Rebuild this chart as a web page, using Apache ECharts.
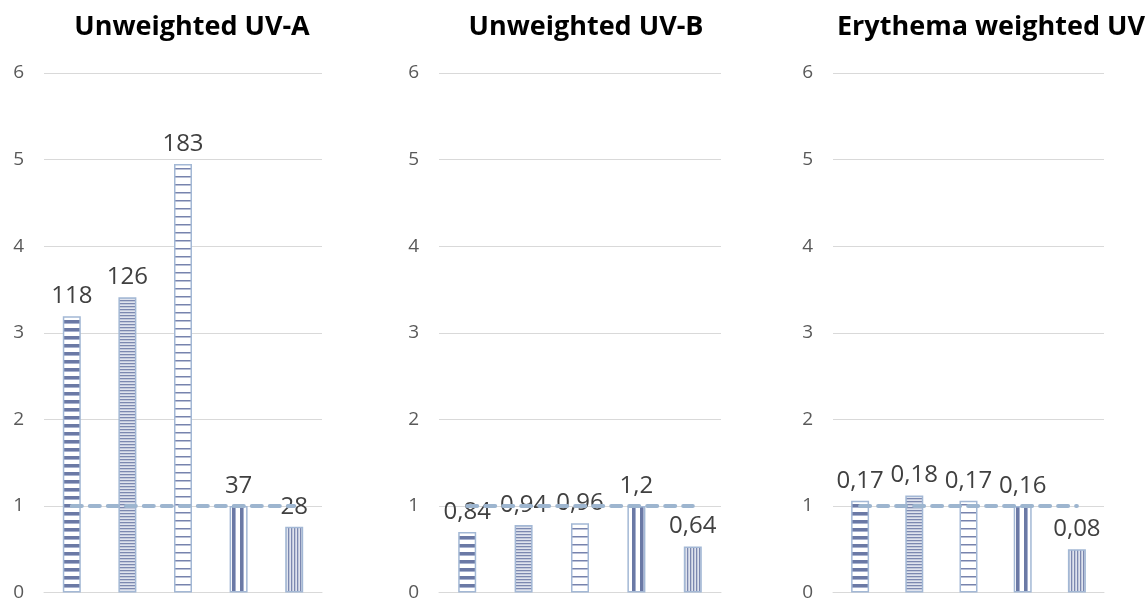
<!DOCTYPE html>
<html>
<head>
<meta charset="utf-8">
<script src="https://cdn.jsdelivr.net/npm/echarts@6/dist/echarts.min.js"></script>
<style>
html,body{margin:0;padding:0;background:#fff;}
#chart{width:1145px;height:602px;}
</style>
</head>
<body>
<div id="chart"></div>
<script>
// ---- data ----
var panelTitles = ['Unweighted UV-A', 'Unweighted UV-B', 'Erythema weighted UV'];
var categories = ['A', 'B', 'C', 'D', 'E'];
// bar heights (relative to 4th bar)
var relUVA = [3.19, 3.41, 4.95, 1.00, 0.76];
var relUVB = [0.70, 0.78, 0.80, 1.00, 0.53];
var relERY = [1.06, 1.12, 1.06, 1.00, 0.50];
// data labels (absolute values)
var labUVA = [118, 126, 183, 37, 28];
var labUVB = [0.84, 0.94, 0.96, 1.2, 0.64];
var labERY = [0.17, 0.18, 0.17, 0.16, 0.08];
// reference line
var refLine = [1, 1, 1, 1, 1];
var yTicks = [0, 1, 2, 3, 4, 5, 6];

// ---- patterns ----
var DARK = '#6b79a5';
function mk(w, h, draw) {
  var c = document.createElement('canvas');
  c.width = w; c.height = h;
  var g = c.getContext('2d');
  g.fillStyle = '#ffffff'; g.fillRect(0, 0, w, h);
  draw(g);
  return { image: c, repeat: 'repeat' };
}
var patterns = [
  mk(8, 8, function (g) { g.fillStyle = DARK; g.fillRect(0, 0, 8, 3); g.fillStyle = '#a8b2cf'; g.fillRect(0, 3, 8, 1); }),
  mk(8, 6, function (g) { g.fillStyle = '#7c88b0'; g.fillRect(0, 0, 8, 1.6); g.fillRect(0, 3, 8, 1.6); g.fillStyle='#dfe3ee'; g.fillRect(0,1.6,8,1.4); g.fillRect(0,4.6,8,1.4);}),
  mk(8, 8, function (g) { g.fillStyle = '#7783ad'; g.fillRect(0, 0, 8, 1.5); }),
  mk(8, 8, function (g) { g.fillStyle = DARK; g.fillRect(0, 0, 3, 8); g.fillStyle = '#a8b2cf'; g.fillRect(3, 0, 1, 8); }),
  mk(6, 8, function (g) { g.fillStyle = '#7c88b0'; g.fillRect(0, 0, 1.6, 8); g.fillRect(3, 0, 1.6, 8); g.fillStyle='#dfe3ee'; g.fillRect(1.6,0,1.4,8); g.fillRect(4.6,0,1.4,8);})
];

var rels = [relUVA, relUVB, relERY];
var labs = [labUVA, labUVB, labERY];
var grids = [
  { left: 44, width: 278, top: 73, height: 520 },
  { left: 439, width: 282, top: 73, height: 520 },
  { left: 833, width: 271, top: 73, height: 520 }
];
var titleCenters = [187, 581, 986];
var FONT = 'Open Sans';

var option = {
  animation: false,
  backgroundColor: '#ffffff',
  title: panelTitles.map(function (t, i) {
    return {
      text: t, left: titleCenters[i], top: 9, textAlign: 'center',
      textStyle: { fontFamily: FONT, fontWeight: 'bold', fontSize: 27, color: '#000000' }
    };
  }),
  grid: grids,
  xAxis: grids.map(function (g, i) {
    return {
      type: 'category', gridIndex: i, data: categories,
      axisLine: { show: true, lineStyle: { color: '#d9d9d9', width: 1 } },
      axisTick: { show: false }, axisLabel: { show: false }
    };
  }),
  yAxis: grids.map(function (g, i) {
    return {
      type: 'value', gridIndex: i, min: yTicks[0], max: yTicks[yTicks.length - 1], interval: 1,
      axisLine: { show: false }, axisTick: { show: false },
      axisLabel: { fontFamily: FONT, fontSize: 19, color: '#595959', margin: 20 },
      splitLine: { lineStyle: { color: '#d9d9d9', width: 1 } }
    };
  }),
  series: []
};

rels.forEach(function (vals, i) {
  option.series.push({
    type: 'bar', xAxisIndex: i, yAxisIndex: i, barWidth: 18,
    data: vals.map(function (v, j) {
      return {
        value: v,
        itemStyle: { color: patterns[j], borderColor: '#a3b8d5', borderWidth: 1.5 },
        label: {
          show: true, position: 'top', distance: 8,
          formatter: String(labs[i][j]).replace('.', ','),
          fontFamily: FONT, fontSize: 24, color: '#404040'
        }
      };
    })
  });
  option.series.push({
    type: 'line', xAxisIndex: i, yAxisIndex: i, data: refLine,
    symbol: 'none', z: 3,
    lineStyle: { color: '#9db5cf', width: 4, type: [10, 8], cap: 'round' }
  });
});

var chart = echarts.init(document.getElementById('chart'), null, { renderer: 'canvas' });
chart.setOption(option);
</script>
</body>
</html>
